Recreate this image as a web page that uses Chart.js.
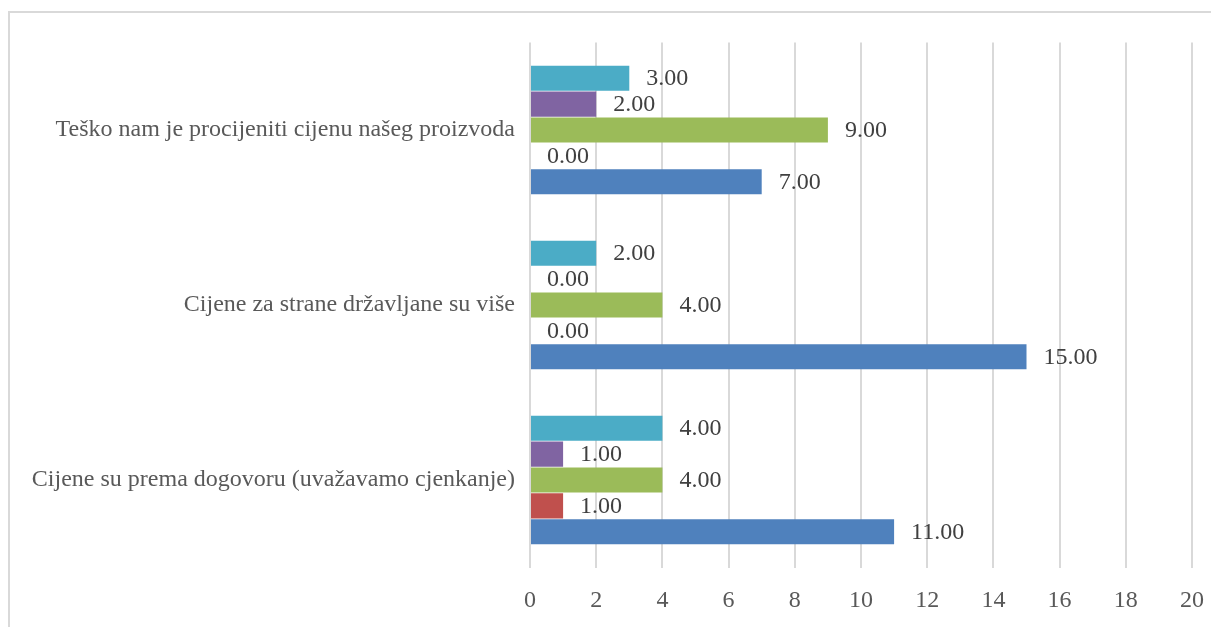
<!DOCTYPE html>
<html>
<head>
<meta charset="utf-8">
<script src="https://cdn.jsdelivr.net/npm/chart.js@4"></script>
<style>
  html, body { margin: 0; padding: 0; background: #fff; }
  #wrap { width: 1211px; height: 627px; }
</style>
</head>
<body>
<div id="wrap"><canvas id="chart" width="1211" height="627"></canvas></div>
<script>
// Categories, top to bottom
const categories = [
    'Teško nam je procijeniti cijenu našeg proizvoda',
    'Cijene za strane državljane su više',
    'Cijene su prema dogovoru (uvažavamo cjenkanje)'
];
// Series, in order from the top bar of each group to the bottom
const tealValues   = [3, 2, 4];
const purpleValues = [2, 0, 1];
const greenValues  = [9, 4, 4];
const redValues    = [0, 0, 1];
const blueValues   = [7, 15, 11];

const xTicks = [0, 2, 4, 6, 8, 10, 12, 14, 16, 18, 20];

const textColor = '#595959';
const fontFamily = '"Liberation Serif", "Times New Roman", serif';

/**
 * Light grey frame round the chart
 */
const framePlugin = {
    id: 'frame',
    beforeDraw(chart) {
        const ctx = chart.ctx;
        ctx.save();
        ctx.strokeStyle = '#d9d9d9';
        ctx.lineWidth = 2;
        ctx.strokeRect(9, 12, 1300, 700);
        ctx.restore();
    }
};

/**
 * Value labels to the right of each bar end
 */
const valueLabels = {
    id: 'valueLabels',
    afterDatasetsDraw(chart) {
        const ctx = chart.ctx;
        ctx.save();
        ctx.font = '24px ' + fontFamily;
        ctx.fillStyle = '#404040';
        ctx.textAlign = 'left';
        ctx.textBaseline = 'middle';
        chart.data.datasets.forEach((ds, i) => {
            chart.getDatasetMeta(i).data.forEach((bar, j) => {
                ctx.fillText(ds.data[j].toFixed(2), bar.x + 17, bar.y + 1);
            });
        });
        ctx.restore();
    }
};

function series(data, color) {
    return {
        data: data,
        backgroundColor: color,
        borderWidth: 0,
        categoryPercentage: 0.74,
        barPercentage: 0.97
    };
}

new Chart(document.getElementById('chart').getContext('2d'), {
    type: 'bar',
    data: {
        labels: categories,
        datasets: [
            series(tealValues, '#4BACC6'),
            series(purpleValues, '#8064A2'),
            series(greenValues, '#9BBB59'),
            series(redValues, '#C0504D'),
            series(blueValues, '#4F81BD')
        ]
    },
    options: {
        indexAxis: 'y',
        responsive: false,
        animation: false,
        layout: { padding: { top: 42.5, right: 19, left: 0, bottom: 0 } },
        plugins: {
            legend: { display: false },
            tooltip: { enabled: false }
        },
        scales: {
            x: {
                min: 0,
                max: 20,
                afterBuildTicks: scale => { scale.ticks = xTicks.map(v => ({ value: v })); },
                afterFit: scale => {
                    scale.height = 59.5;
                    scale.paddingLeft = 0;
                    scale.paddingRight = 0;
                },
                grid: { color: '#d9d9d9', lineWidth: 2, drawTicks: false },
                border: { display: false },
                ticks: {
                    padding: 19,
                    color: textColor,
                    font: { family: fontFamily, size: 24 }
                }
            },
            y: {
                afterFit: scale => { scale.width = 530; },
                grid: { display: false, drawTicks: false },
                border: { display: false },
                ticks: {
                    padding: 15,
                    color: textColor,
                    font: { family: fontFamily, size: 24 }
                }
            }
        }
    },
    plugins: [framePlugin, valueLabels]
});
</script>
</body>
</html>
